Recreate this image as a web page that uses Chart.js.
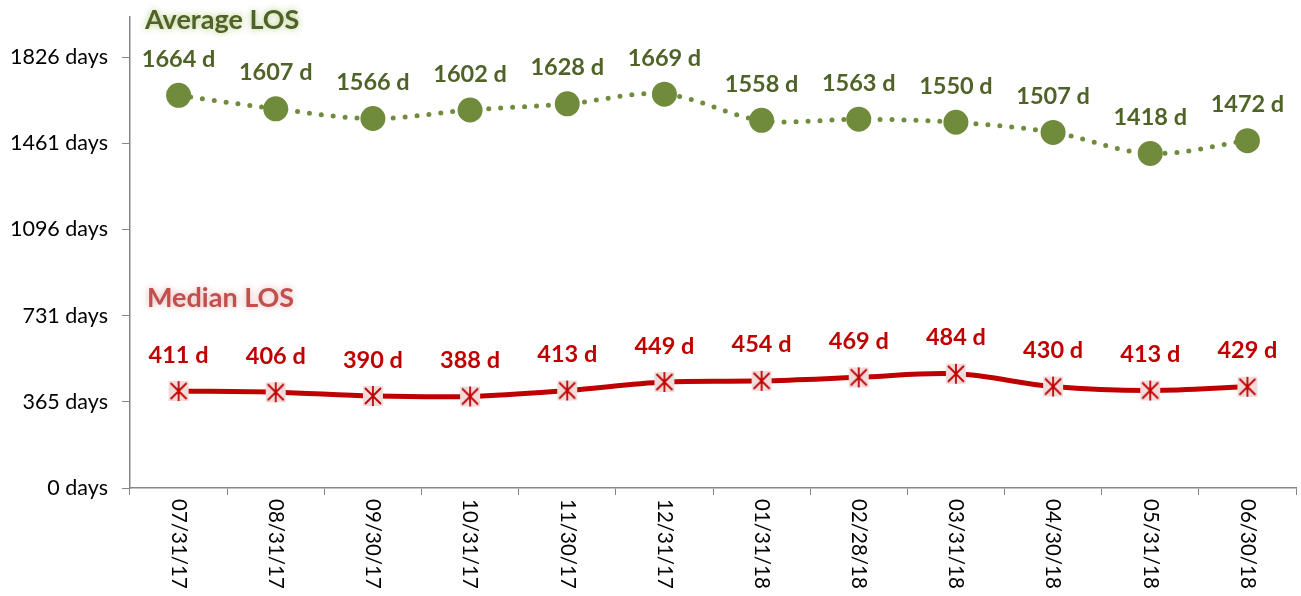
<!DOCTYPE html>
<html>
<head>
<meta charset="utf-8">
<script src="https://cdn.jsdelivr.net/npm/chart.js@4.4.1/dist/chart.umd.min.js"></script>
<style>
  html, body { margin: 0; padding: 0; background: #fff; overflow: hidden; }
  /* a bit wider than the window: chart.js keeps ~16px on the right we can't turn off */
  #wrap { position: relative; width: 1312px; height: 596px; }
  canvas { display: block; }
</style>
</head>
<body>
<div id="wrap"><canvas id="chart"></canvas></div>
<script>
const dates = ["07/31/17", "08/31/17", "09/30/17", "10/31/17", "11/30/17", "12/31/17",
               "01/31/18", "02/28/18", "03/31/18", "04/30/18", "05/31/18", "06/30/18"];
const averageLos = [1664, 1607, 1566, 1602, 1628, 1669, 1558, 1563, 1550, 1507, 1418, 1472];
const medianLos = [411, 406, 390, 388, 413, 449, 454, 469, 484, 430, 413, 429];
const yTicks = [0, 365.25, 730.5, 1095.75, 1461, 1826.25];

const FONT = "Lato, 'Open Sans', sans-serif";
const GREEN = "#6f8b3b";
const GREEN_TEXT = "#4f6228";
const RED = "#c00000";

// asterisk-in-a-box marker for the median series
function makeStarMarker() {
  const c = document.createElement("canvas");
  c.width = 22; c.height = 22;
  const g = c.getContext("2d");
  g.fillStyle = "#f2dcdb";
  g.fillRect(1, 1, 20, 20);
  g.strokeStyle = RED;
  g.lineWidth = 1.8;
  g.beginPath();
  g.moveTo(3, 3); g.lineTo(19, 19);
  g.moveTo(19, 3); g.lineTo(3, 19);
  g.moveTo(11, 1); g.lineTo(11, 21);
  g.stroke();
  return c;
}

// drop the label padding chart.js reserves so the plot box is set by layout.padding
function noPad(s) {
  s.paddingTop = 0; s.paddingBottom = 0; s.paddingLeft = 0; s.paddingRight = 0;
}

const labelPlugin = {
  id: "labels",
  afterDraw(chart) {
    const ctx = chart.ctx;
    ctx.save();
    // value labels above points
    ctx.font = "bold 23.5px " + FONT;
    ctx.textAlign = "center";
    ctx.textBaseline = "middle";
    chart.data.datasets.forEach((ds, di) => {
      const meta = chart.getDatasetMeta(di);
      ctx.fillStyle = di === 0 ? GREEN_TEXT : RED;
      meta.data.forEach((pt, i) => {
        ctx.fillText(ds.data[i] + " d", pt.x, pt.y - 36);
      });
    });

    // rotated date labels, reading top to bottom
    const xs = chart.scales.x;
    ctx.font = "20.5px " + FONT;
    ctx.fillStyle = "#000";
    ctx.textAlign = "left";
    dates.forEach((d, i) => {
      ctx.save();
      ctx.translate(xs.getPixelForTick(i), xs.top + 11);
      ctx.rotate(Math.PI / 2);
      ctx.fillText(d, 0, 0);
      ctx.restore();
    });

    // series titles with a soft glow
    ctx.font = "bold 27px " + FONT;
    ctx.textAlign = "left";
    ctx.textBaseline = "middle";
    ctx.shadowBlur = 7;
    ctx.shadowColor = "rgba(155,187,89,0.8)";
    ctx.fillStyle = GREEN_TEXT;
    ctx.fillText("Average LOS", 145, 20);
    ctx.shadowColor = "rgba(192,80,77,0.45)";
    ctx.fillStyle = "#c0504d";
    ctx.fillText("Median LOS", 147, 298);
    ctx.restore();
  }
};

new Chart(document.getElementById("chart"), {
  type: "line",
  data: {
    labels: dates,
    datasets: [
      {
        label: "Average LOS",
        data: averageLos,
        borderColor: GREEN,
        borderWidth: 5,
        borderDash: [0, 12],
        borderCapStyle: "round",
        tension: 0.35,
        pointRadius: 10,
        pointHoverRadius: 10,
        pointBackgroundColor: GREEN,
        pointBorderColor: GREEN
      },
      {
        label: "Median LOS",
        data: medianLos,
        borderColor: RED,
        borderWidth: 5,
        tension: 0.35,
        pointStyle: makeStarMarker(),
        pointRadius: 11,
        pointHoverRadius: 11
      }
    ]
  },
  options: {
    responsive: true,
    maintainAspectRatio: false,
    animation: false,
    events: [],
    layout: { padding: { top: 17, right: 5, left: 0, bottom: 0 } },
    plugins: { legend: { display: false }, tooltip: { enabled: false } },
    scales: {
      x: {
        offset: true,
        grid: { offset: true, drawOnChartArea: false, drawTicks: true, tickLength: 7, color: "#868686", lineWidth: 1 },
        border: { color: "#868686", width: 1.5 },
        ticks: { display: false },
        afterFit(s) { s.height = 108; noPad(s); }
      },
      y: {
        min: 0,
        max: 1996,
        afterBuildTicks(s) { s.ticks = yTicks.map(v => ({ value: v })); },
        grid: { drawOnChartArea: false, drawTicks: true, tickLength: 8, color: "#868686" },
        border: { color: "#868686", width: 1.5 },
        ticks: {
          color: "#000",
          padding: 14,
          font: { family: FONT, size: 21.5 },
          callback: v => Math.round(v) + " days"
        },
        afterFit(s) { s.width = 130; noPad(s); }
      }
    }
  },
  plugins: [labelPlugin]
});
</script>
</body>
</html>
